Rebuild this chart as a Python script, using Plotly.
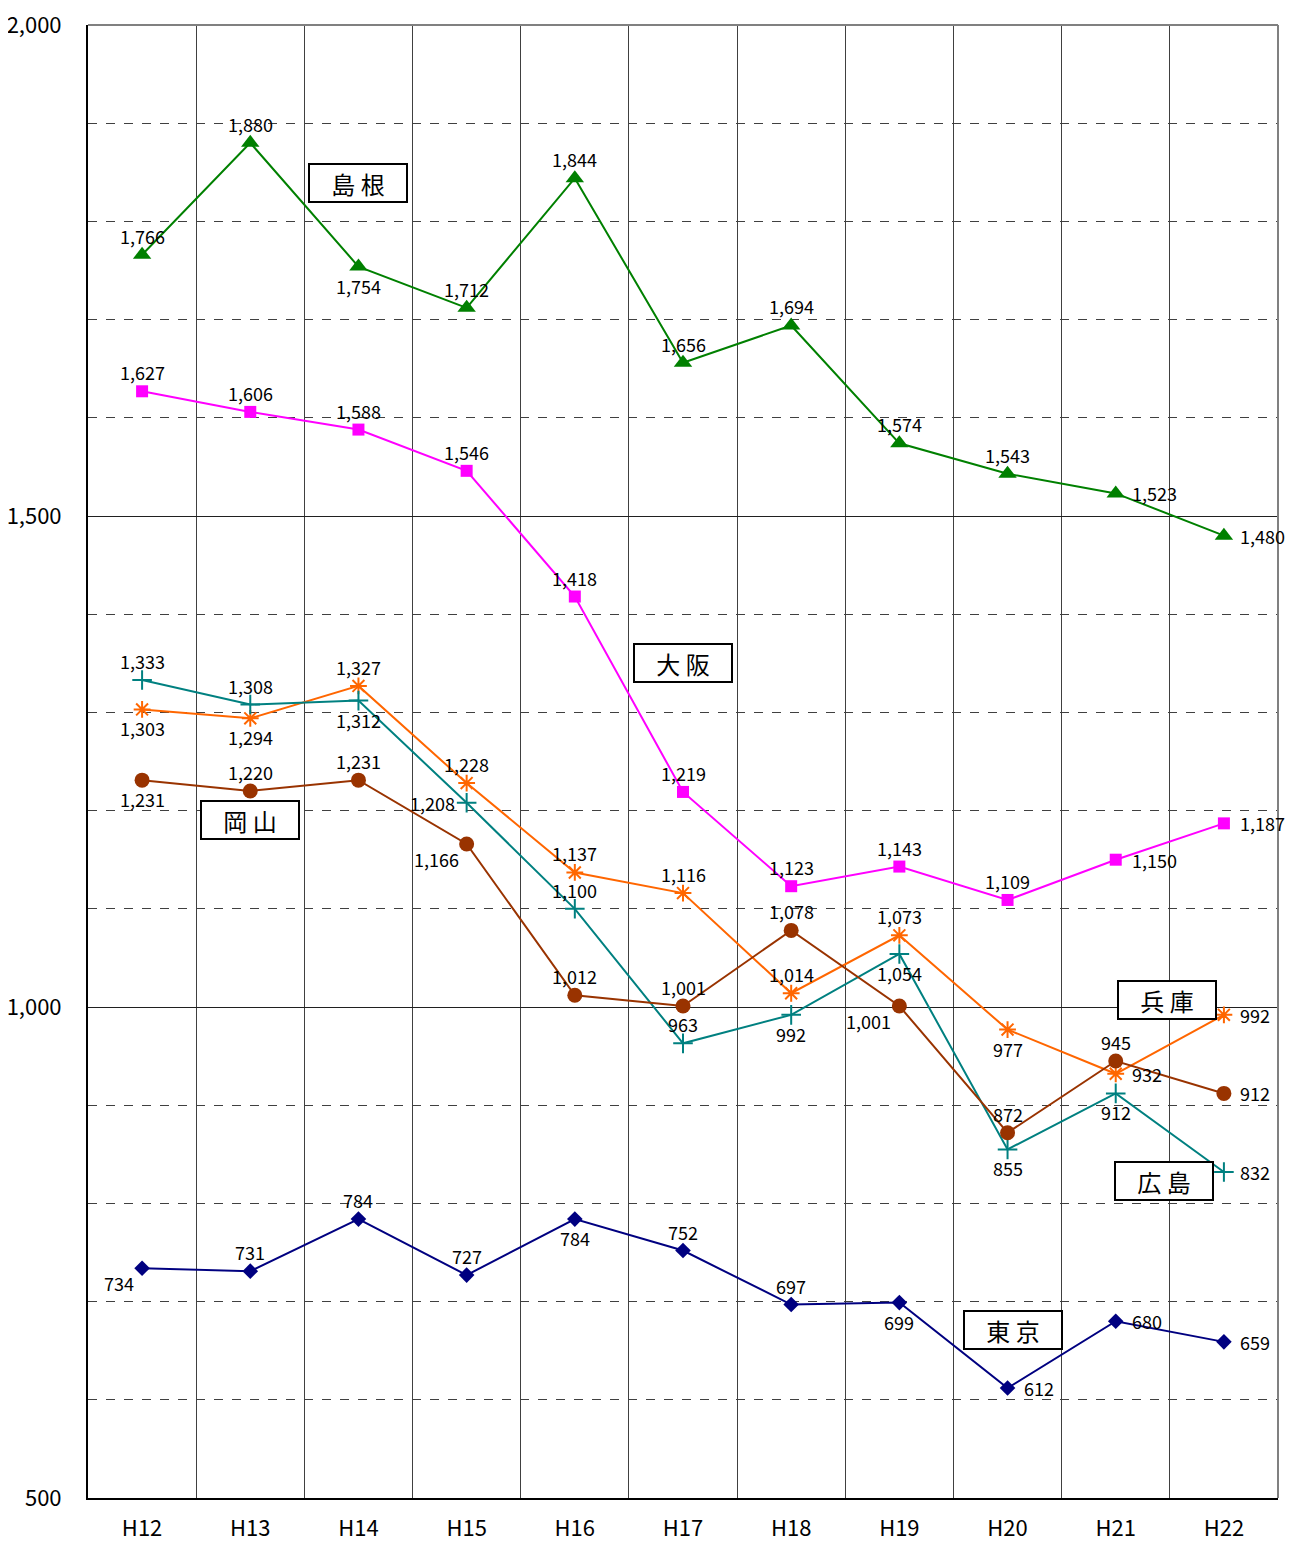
import plotly.graph_objects as go

years = ["H12", "H13", "H14", "H15", "H16", "H17", "H18", "H19", "H20", "H21", "H22"]

shimane = [1766, 1880, 1754, 1712, 1844, 1656, 1694, 1574, 1543, 1523, 1480]
osaka = [1627, 1606, 1588, 1546, 1418, 1219, 1123, 1143, 1109, 1150, 1187]
hyogo = [1303, 1294, 1327, 1228, 1137, 1116, 1014, 1073, 977, 932, 992]
hiroshima = [1333, 1308, 1312, 1208, 1100, 963, 992, 1054, 855, 912, 832]
okayama = [1231, 1220, 1231, 1166, 1012, 1001, 1078, 1001, 872, 945, 912]
tokyo = [734, 731, 784, 727, 784, 752, 697, 699, 612, 680, 659]

# label placement per point: a=above, b=below, r=right, l=left, bl=below-left
pos_shimane = ["a", "a", "b", "a", "a", "a", "a", "a", "a", "r", "r"]
pos_osaka = ["a", "a", "a", "a", "a", "a", "a", "a", "a", "r", "r"]
pos_hyogo = ["b", "b", "a", "a", "a", "a", "a", "a", "b", "r", "r"]
pos_hiroshima = ["a", "a", "b", "l", "a", "a", "b", "b", "b", "b", "r"]
pos_okayama = ["b", "a", "a", "bl", "a", "a", "a", "bl", "a", "a", "r"]
pos_tokyo = ["bl", "a", "a", "a", "b", "a", "a", "b", "r", "r", "r"]

series = [
    ("島根", shimane, pos_shimane, "#008000", "triangle-up", 16),
    ("大阪", osaka, pos_osaka, "#FF00FF", "square", 12),
    ("兵庫", hyogo, pos_hyogo, "#FF6600", "asterisk-open", 14),
    ("広島", hiroshima, pos_hiroshima, "#008080", "cross-thin-open", 14),
    ("岡山", okayama, pos_okayama, "#993300", "circle", 15),
    ("東京", tokyo, pos_tokyo, "#000080", "diamond", 12),
]

# name boxes: (text, x index, y value)
boxes = [
    ("島 根", 2, 1839),
    ("大 阪", 5, 1350),
    ("岡 山", 1, 1190),
    ("兵 庫", 9.47, 1007),
    ("広 島", 9.45, 823),
    ("東 京", 8.05, 671),
]

FONT = "Noto Sans CJK JP"
fig = go.Figure()
annotations = []

for name, vals, pos, color, sym, size in series:
    fig.add_trace(go.Scatter(
        x=years, y=vals, mode="lines+markers", name=name,
        line=dict(color=color, width=2),
        marker=dict(symbol=sym, size=size, color=color,
                    line=dict(color=color, width=2 if "open" in sym else 0)),
        showlegend=False,
    ))
    for i, (v, p) in enumerate(zip(vals, pos)):
        a = dict(x=i, y=v, xref="x", yref="y", text=f"{v:,}", showarrow=False,
                 font=dict(family=FONT, size=18, color="black"))
        if p == "a":
            a.update(yshift=19)
        elif p == "b":
            a.update(yshift=-19)
        elif p == "r":
            a.update(xanchor="left", xshift=14)
        elif p == "l":
            a.update(xanchor="right", xshift=-10)
        elif p == "bl":
            a.update(xanchor="right", xshift=-6, yshift=-15)
        annotations.append(a)

for text, bx, by in boxes:
    annotations.append(dict(
        x=bx, y=by, xref="x", yref="y", text=text, showarrow=False,
        font=dict(family=FONT, size=24, color="black"),
        bordercolor="black", borderwidth=2, bgcolor="white",
        borderpad=2, width=92, height=32,
    ))

fig.update_layout(
    width=1298, height=1544,
    margin=dict(l=80, r=28, t=17, b=54),
    paper_bgcolor="white", plot_bgcolor="white",
    font=dict(family=FONT, size=22, color="black"),
    annotations=annotations,
    shapes=[
        dict(type="line", xref="paper", yref="paper", x0=0, x1=1, y0=1, y1=1,
             line=dict(color="#808080", width=2)),
        dict(type="line", xref="paper", yref="paper", x0=1, x1=1, y0=0, y1=1,
             line=dict(color="#808080", width=2)),
    ],
)

fig.update_xaxes(
    type="category", categoryorder="array", categoryarray=years,
    range=[-0.5, 10.5], tickson="boundaries",
    showgrid=True, gridcolor="#404040", gridwidth=1,
    showline=True, linecolor="black", linewidth=2,
    ticks="", ticklabelstandoff=10, automargin=False,
    tickfont=dict(family=FONT, size=22), zeroline=False,
)
fig.update_yaxes(
    range=[500, 2000], dtick=500, tickformat=",",
    showgrid=True, gridcolor="#202020", gridwidth=1,
    minor=dict(dtick=100, showgrid=True, gridcolor="#404040", griddash="dash", gridwidth=1),
    showline=True, linecolor="black", linewidth=2,
    ticks="", ticklabelstandoff=20, automargin=False, ticklabeloverflow="allow",
    tickfont=dict(family=FONT, size=22), zeroline=False,
)

fig.write_html("out.html")
